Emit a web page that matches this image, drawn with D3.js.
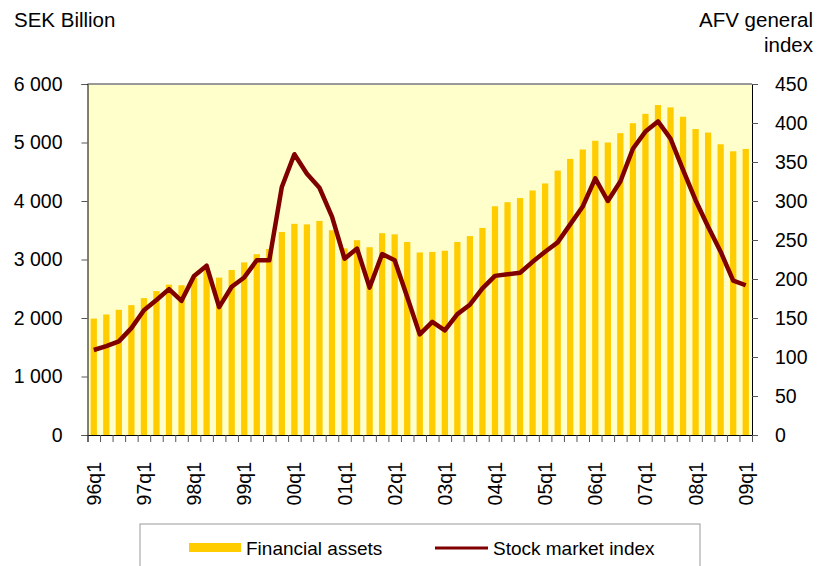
<!DOCTYPE html>
<html>
<head>
<meta charset="utf-8">
<script src="https://cdn.jsdelivr.net/npm/d3@7"></script>
<style>
  body { margin: 0; background: #fff; }
  svg text { font-family: "Liberation Sans", Arial, sans-serif; fill: #000; }
</style>
</head>
<body>
<svg class="chart"></svg>
<script>
// Quarters 96q1 .. 09q1
const years = ["96", "97", "98", "99", "00", "01", "02", "03", "04", "05", "06", "07", "08", "09"];
const quarters = years.flatMap(y => y === "09" ? [y + "q1"] : [1, 2, 3, 4].map(q => y + "q" + q));

// Financial assets, SEK billion
const assets = [1990, 2060, 2140, 2220, 2340, 2460, 2570, 2560, 2690, 2850,
    2690, 2820, 2950, 3090, 3180, 3470, 3610, 3600, 3660, 3500,
    3190, 3330, 3210, 3450, 3430, 3300, 3120, 3130, 3150, 3300,
    3400, 3540, 3910, 3980, 4050, 4180, 4300, 4520, 4720, 4880,
    5030, 5000, 5160, 5330, 5490, 5640, 5600, 5440, 5230, 5170,
    4970, 4850, 4890];

// AFV general index
const stockIndex = [109, 114, 120, 137, 160, 173, 187, 172, 204, 217,
    164, 190, 202, 224, 224, 318, 360, 335, 317, 280,
    226, 239, 189, 232, 224, 177, 129, 145, 134, 155,
    167, 188, 204, 206, 208, 222, 235, 247, 270, 293,
    329, 300, 325, 367, 389, 402, 380, 340, 301, 267,
    235, 198, 192];

const leftTicks = [0, 1000, 2000, 3000, 4000, 5000, 6000];
const rightTicks = [0, 50, 100, 150, 200, 250, 300, 350, 400, 450];

function makeChart() {
    const svgWidth = 817, svgHeight = 566;
    const margin = { top: 84, right: 65, bottom: 131, left: 87.5 };
    const width = svgWidth - margin.left - margin.right;
    const height = svgHeight - margin.top - margin.bottom;

    const canvas = d3.select(".chart")
        .attr("width", svgWidth)
        .attr("height", svgHeight);

    const plot = canvas.append("g")
        .attr("transform", `translate(${margin.left},${margin.top})`);

    const fmt = d3.formatLocale({ thousands: " ", grouping: [3], decimal: ".", currency: ["", ""] }).format(",d");

    // Scales
    const x = d3.scaleBand().domain(quarters).range([0, width]).paddingInner(0.5).paddingOuter(0.25);
    const xIdx = d3.scaleLinear().domain([0, quarters.length]).range([0, width]);
    const yL = d3.scaleLinear().domain([0, 6000]).range([height, 0]);
    const yR = d3.scaleLinear().domain([0, 450]).range([height, 0]);

    // Background
    plot.append("rect")
        .attr("width", width).attr("height", height)
        .attr("fill", "#FFFFCC");

    // Bars
    plot.selectAll("rect.bar")
        .data(assets)
        .enter().append("rect")
        .attr("class", "bar")
        .attr("x", (d, i) => x(quarters[i]))
        .attr("width", x.bandwidth())
        .attr("y", d => yL(d))
        .attr("height", d => height - yL(d))
        .attr("fill", "#FFCC00");

    // Top border
    plot.append("line")
        .attr("x1", 0).attr("x2", width)
        .attr("y1", 0).attr("y2", 0)
        .attr("stroke", "#999").attr("stroke-width", 2);

    // Line
    const line = d3.line()
        .x((d, i) => x(quarters[i]) + x.bandwidth() / 2)
        .y(d => yR(d));
    plot.append("path")
        .datum(stockIndex)
        .attr("fill", "none")
        .attr("stroke", "#800000")
        .attr("stroke-width", 4.5)
        .attr("stroke-linejoin", "round")
        .attr("d", line);

    // Axes
    const left = plot.append("g")
        .call(d3.axisLeft(yL).tickValues(leftTicks).tickSize(6).tickPadding(19).tickFormat(fmt));
    const right = plot.append("g")
        .attr("transform", `translate(${width},0)`)
        .call(d3.axisRight(yR).tickValues(rightTicks).tickSize(6).tickPadding(17));
    const bottom = plot.append("g")
        .attr("transform", `translate(0,${height})`)
        .call(d3.axisBottom(xIdx).tickValues(d3.range(quarters.length + 1)).tickSize(7).tickFormat(""));
    [left, right, bottom].forEach(g => {
        g.select(".domain").attr("stroke", "#000");
        g.selectAll(".tick line").attr("stroke", "#555");
        g.selectAll("text").style("font-size", "19.5px").style("font-family", "'Liberation Sans', Arial, sans-serif");
    });

    // Quarter labels
    plot.append("g")
        .selectAll("text")
        .data(quarters.filter((q, i) => i % 4 === 0))
        .enter().append("text")
        .attr("transform", d => `translate(${x(d) + x.bandwidth() / 2 + 7},${height + 27}) rotate(-90)`)
        .attr("text-anchor", "end")
        .style("font-size", "19.5px")
        .text(d => d);

    // Axis titles
    canvas.append("text").attr("x", 14).attr("y", 27).style("font-size", "20.5px").text("SEK Billion");
    canvas.append("text").attr("x", 813).attr("y", 27).attr("text-anchor", "end").style("font-size", "20.5px").text("AFV general");
    canvas.append("text").attr("x", 813).attr("y", 52).attr("text-anchor", "end").style("font-size", "20.5px").text("index");

    // Legend
    const legend = canvas.append("g");
    legend.append("rect")
        .attr("x", 140).attr("y", 524).attr("width", 560).attr("height", 60)
        .attr("fill", "#fff").attr("stroke", "#999").attr("stroke-width", 1);
    legend.append("rect")
        .attr("x", 189).attr("y", 543).attr("width", 52).attr("height", 9)
        .attr("fill", "#FFCC00");
    legend.append("text").attr("x", 246).attr("y", 555).style("font-size", "19px").text("Financial assets");
    legend.append("line")
        .attr("x1", 435).attr("x2", 488).attr("y1", 548).attr("y2", 548)
        .attr("stroke", "#800000").attr("stroke-width", 3);
    legend.append("text").attr("x", 493).attr("y", 555).style("font-size", "19px").text("Stock market index");
}

makeChart();
</script>
</body>
</html>
